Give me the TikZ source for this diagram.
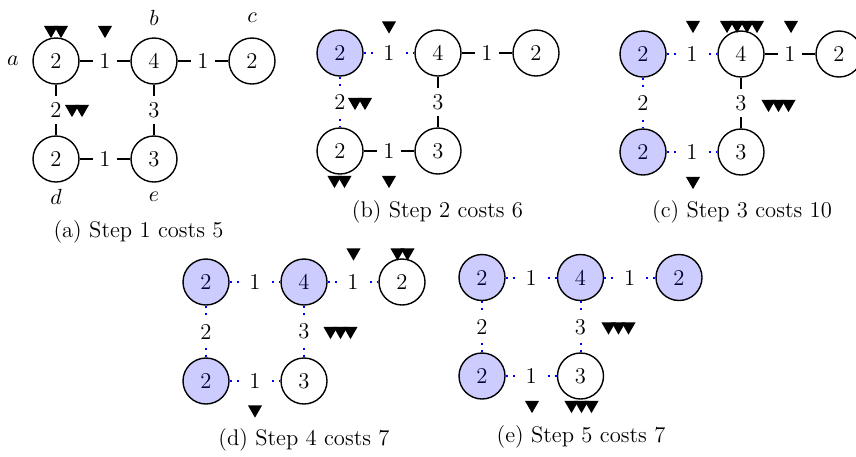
\documentclass[tikz,border=0pt]{standalone}
\usetikzlibrary{shapes.geometric}
\tikzset{
  x=0.5pt, y=-0.5pt,
  every node/.style={font=\fontsize{11.3}{13.6}\selectfont},
  vtx/.style={circle, draw=black, line width=0.7pt, minimum size=23pt, inner sep=0pt, fill=white},
  vis/.style={vtx, fill=blue!20, text=blue!20!black},
  lbl/.style={midway, fill=white, inner sep=3.3pt},
  soledge/.style={draw=black, line width=0.8pt},
  dotedge/.style={draw=blue, line width=1pt, dash pattern=on 1pt off 2.5pt},
  tok/.style={regular polygon, regular polygon sides=3, shape border rotate=180, fill=black, inner sep=0pt, minimum size=8.1pt, yshift=1pt},
  vname/.style={inner sep=0pt},
  captxt/.style={inner sep=0pt},
}
\newcommand\tokrow[4]{\foreach \k in {1,...,#4}{\node[tok] (#1-\k) at ({#2+(\k-(#4+1)/2)*10},#3) {};}}
\begin{document}
\begin{tikzpicture}
\useasboundingbox (0,0) rectangle (856,456);
% ---------- (a)
\begin{scope}[shift={(56,61)}]
  \node[vtx] (a1) at (0,0) {2};
  \node[vtx] (b1) at (98,0) {4};
  \node[vtx] (c1) at (196,0) {2};
  \node[vtx] (d1) at (0,98) {2};
  \node[vtx] (e1) at (98,98) {3};
  \draw[soledge] (a1) -- node[lbl]{1} (b1);
  \draw[soledge] (b1) -- node[lbl]{1} (c1);
  \draw[soledge] (a1) -- node[lbl]{2} (d1);
  \draw[soledge] (b1) -- node[lbl]{3} (e1);
  \draw[soledge] (d1) -- node[lbl]{1} (e1);
\end{scope}
\node[vname] (na) at (13,61) {$a$};
\node[vname] (nb) at (154,18) {$b$};
\node[vname] (nc) at (252,18) {$c$};
\node[vname] (nd) at (56,197) {$d$};
\node[vname] (ne) at (154,197) {$e$};
\node[captxt] (capa) at (138.5,232) {(a) Step 1 costs 5};
\tokrow{ta1}{56}{32}{2}
\tokrow{ta2}{105}{32}{1}
\tokrow{ta3}{77}{111}{2}
% ---------- (b)
\begin{scope}[shift={(340,53)}]
  \node[vis] (a2) at (0,0) {2};
  \node[vtx] (b2) at (98,0) {4};
  \node[vtx] (c2) at (196,0) {2};
  \node[vtx] (d2) at (0,98) {2};
  \node[vtx] (e2) at (98,98) {3};
  \draw[dotedge] (a2) -- node[lbl]{1} (b2);
  \draw[soledge] (b2) -- node[lbl]{1} (c2);
  \draw[dotedge] (a2) -- node[lbl]{2} (d2);
  \draw[soledge] (b2) -- node[lbl]{3} (e2);
  \draw[soledge] (d2) -- node[lbl]{1} (e2);
\end{scope}
\node[captxt] (capb) at (437.5,212) {(b) Step 2 costs 6};
\tokrow{tb1}{389}{27.5}{1}
\tokrow{tb2}{360}{104}{2}
\tokrow{tb3}{339.5}{182}{2}
\tokrow{tb4}{389}{182}{1}
% ---------- (c)
\begin{scope}[shift={(643,54)}]
  \node[vis] (a3) at (0,0) {2};
  \node[vtx] (b3) at (98,0) {4};
  \node[vtx] (c3) at (196,0) {2};
  \node[vis] (d3) at (0,98) {2};
  \node[vtx] (e3) at (98,98) {3};
  \draw[dotedge] (a3) -- node[lbl]{1} (b3);
  \draw[soledge] (b3) -- node[lbl]{1} (c3);
  \draw[dotedge] (a3) -- node[lbl]{2} (d3);
  \draw[soledge] (b3) -- node[lbl]{3} (e3);
  \draw[dotedge] (d3) -- node[lbl]{1} (e3);
\end{scope}
\node[captxt] (capc) at (742,212) {(c) Step 3 costs 10};
\tokrow{tc1}{693}{27}{1}
\tokrow{tc2}{742}{27}{4}
\tokrow{tc3}{791}{27}{1}
\tokrow{tc4}{778.5}{106}{3}
\tokrow{tc5}{693}{183}{1}
% ---------- (d)
\begin{scope}[shift={(206,282)}]
  \node[vis] (a4) at (0,0) {2};
  \node[vis] (b4) at (98,0) {4};
  \node[vtx] (c4) at (196,0) {2};
  \node[vis] (d4) at (0,99) {2};
  \node[vtx] (e4) at (98,99) {3};
  \draw[dotedge] (a4) -- node[lbl]{1} (b4);
  \draw[dotedge] (b4) -- node[lbl]{1} (c4);
  \draw[dotedge] (a4) -- node[lbl]{2} (d4);
  \draw[dotedge] (b4) -- node[lbl]{3} (e4);
  \draw[dotedge] (d4) -- node[lbl]{1} (e4);
\end{scope}
\node[captxt] (capd) at (304,440) {(d) Step 4 costs 7};
\tokrow{td1}{353.5}{254.5}{1}
\tokrow{td2}{402.5}{254.5}{2}
\tokrow{td3}{340.5}{333}{3}
\tokrow{td4}{255}{411.5}{1}
% ---------- (e)
\begin{scope}[shift={(482,277.5)}]
  \node[vis] (a5) at (0,0) {2};
  \node[vis] (b5) at (98.5,0) {4};
  \node[vis] (c5) at (197,0) {2};
  \node[vis] (d5) at (0,98.5) {2};
  \node[vtx] (e5) at (98.5,98.5) {3};
  \draw[dotedge] (a5) -- node[lbl]{1} (b5);
  \draw[dotedge] (b5) -- node[lbl]{1} (c5);
  \draw[dotedge] (a5) -- node[lbl]{2} (d5);
  \draw[dotedge] (b5) -- node[lbl]{3} (e5);
  \draw[dotedge] (d5) -- node[lbl]{1} (e5);
\end{scope}
\node[captxt] (cape) at (581,437) {(e) Step 5 costs 7};
\tokrow{te1}{618.5}{328.5}{3}
\tokrow{te2}{532}{407}{1}
\tokrow{te3}{581.5}{407}{3}
\end{tikzpicture}
\end{document}
